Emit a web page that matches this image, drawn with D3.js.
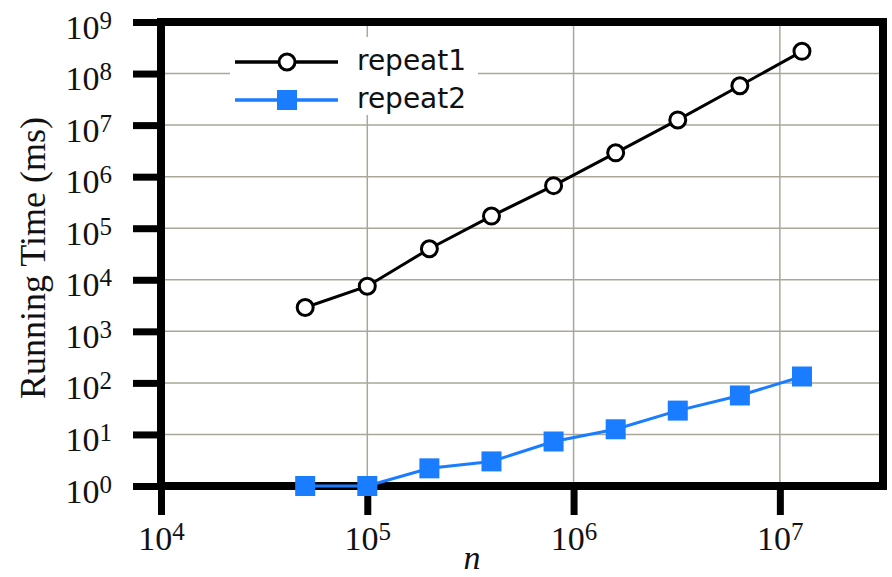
<!DOCTYPE html>
<html>
<head>
<meta charset="utf-8">
<script src="https://d3js.org/d3.v7.min.js"></script>
<style>
  body { margin: 0; background: #fff; }
  text.tick-lbl { font-family: "Liberation Serif", "Times New Roman", serif; fill: #111; }
  text.leg { font-family: "DejaVu Sans", sans-serif; fill: #111; }
</style>
</head>
<body>
<div id="chartHere"></div>
<script>
// data
var nValues = [5e4, 1e5, 2e5, 4e5, 8e5, 1.6e6, 3.2e6, 6.4e6, 1.28e7];
var repeat1 = [2900, 7500, 40000, 172000, 670000, 2.9e6, 1.26e7, 5.8e7, 2.7e8];
var repeat2 = [1, 1, 2.2, 3.0, 7.3, 12.6, 29, 57, 133];
var xTickExp = [4, 5, 6, 7];
var yTickExp = [0, 1, 2, 3, 4, 5, 6, 7, 8, 9];
var seriesNames = ['repeat1', 'repeat2'];

var W = 892, H = 577;
var plot = {left: 161, right: 883, top: 22, bottom: 486};

var svg = d3.select('#chartHere').append('svg')
  .attr('width', W).attr('height', H);

var x = d3.scaleLog().domain([1e4, Math.pow(10, 7.5)]).range([plot.left, plot.right]);
var y = d3.scaleLog().domain([1, 1e9]).range([plot.bottom, plot.top]);

var gridCol = '#a9a799';

// grid
svg.append('g').selectAll('line.vgrid')
  .data(xTickExp).enter().append('line')
  .attr('x1', d => x(Math.pow(10, d))).attr('x2', d => x(Math.pow(10, d)))
  .attr('y1', plot.top).attr('y2', plot.bottom)
  .attr('stroke', gridCol).attr('stroke-width', 1.5);
svg.append('g').selectAll('line.hgrid')
  .data(yTickExp).enter().append('line')
  .attr('x1', plot.left).attr('x2', plot.right)
  .attr('y1', d => y(Math.pow(10, d))).attr('y2', d => y(Math.pow(10, d)))
  .attr('stroke', gridCol).attr('stroke-width', 1.5);

// axes (ticks only, labels added by hand for the superscripts)
var yAxis = d3.axisLeft(y)
  .tickValues(yTickExp.map(e => Math.pow(10, e)))
  .tickSize(28).tickFormat('');
var xAxis = d3.axisBottom(x)
  .tickValues(xTickExp.map(e => Math.pow(10, e)))
  .tickSize(29).tickFormat('');

var gy = svg.append('g').attr('transform', 'translate(' + plot.left + ',0)').call(yAxis);
var gx = svg.append('g').attr('transform', 'translate(0,' + plot.bottom + ')').call(xAxis);
[gy, gx].forEach(function (g) {
  g.select('.domain').remove();
  g.selectAll('.tick line').attr('stroke', '#000').attr('stroke-width', 7);
});

function powLabel(sel, e) {
  sel.append('tspan').text('10');
  sel.append('tspan').text(e).attr('font-size', 25).attr('dy', -10);
}

gy.selectAll('.tick').each(function (d, i) {
  var t = d3.select(this).append('text')
    .attr('class', 'tick-lbl')
    .attr('x', -49).attr('y', 16)
    .attr('font-size', 34)
    .attr('text-anchor', 'end')
    .attr('fill', '#111');
  powLabel(t, yTickExp[i]);
});
gx.selectAll('.tick').each(function (d, i) {
  var t = d3.select(this).append('text')
    .attr('class', 'tick-lbl')
    .attr('x', 0).attr('y', 64)
    .attr('font-size', 34)
    .attr('text-anchor', 'middle')
    .attr('fill', '#111');
  powLabel(t, xTickExp[i]);
});

// axis titles
svg.append('text')
  .attr('class', 'tick-lbl')
  .attr('transform', 'translate(45,' + ((plot.top + plot.bottom) / 2 + 4) + ') rotate(-90)')
  .attr('text-anchor', 'middle')
  .attr('font-size', 36)
  .text('Running Time (ms)');
svg.append('text')
  .attr('class', 'tick-lbl')
  .attr('x', (plot.left + plot.right) / 2 - 50).attr('y', 569)
  .attr('text-anchor', 'middle')
  .attr('font-size', 34)
  .attr('font-style', 'italic')
  .text('n');

// frame
svg.append('rect')
  .attr('x', plot.left).attr('y', plot.top)
  .attr('width', plot.right - plot.left).attr('height', plot.bottom - plot.top)
  .attr('fill', 'none').attr('stroke', '#000').attr('stroke-width', 8);

// series
var blue = '#1a7dff';
var line = d3.line().x(d => x(d[0])).y(d => y(d[1]));
var s1 = d3.zip(nValues, repeat1);
var s2 = d3.zip(nValues, repeat2);

svg.append('path').datum(s2).attr('d', line)
  .attr('fill', 'none').attr('stroke', blue).attr('stroke-width', 3);
svg.append('g').selectAll('rect').data(s2).enter().append('rect')
  .attr('x', d => x(d[0]) - 10).attr('y', d => y(d[1]) - 10)
  .attr('width', 20).attr('height', 20)
  .attr('fill', blue);

svg.append('path').datum(s1).attr('d', line)
  .attr('fill', 'none').attr('stroke', '#000').attr('stroke-width', 3);
svg.append('g').selectAll('circle').data(s1).enter().append('circle')
  .attr('cx', d => x(d[0])).attr('cy', d => y(d[1]))
  .attr('r', 8)
  .attr('fill', '#fff').attr('stroke', '#000').attr('stroke-width', 3);

// legend
var leg = svg.append('g');
leg.append('rect').attr('x', 230).attr('y', 37).attr('width', 248).attr('height', 78)
  .attr('fill', '#fff');
var legRows = leg.selectAll('g.row').data(seriesNames).enter().append('g')
  .attr('transform', (d, i) => 'translate(0,' + (62 + i * 38) + ')');
legRows.append('line')
  .attr('x1', 235).attr('x2', 338).attr('y1', 0).attr('y2', 0)
  .attr('stroke', (d, i) => i === 0 ? '#000' : blue).attr('stroke-width', 3.5);
legRows.filter((d, i) => i === 0).append('circle')
  .attr('cx', 287).attr('cy', 0).attr('r', 8)
  .attr('fill', '#fff').attr('stroke', '#000').attr('stroke-width', 3);
legRows.filter((d, i) => i === 1).append('rect')
  .attr('x', 277).attr('y', -10).attr('width', 20).attr('height', 20)
  .attr('fill', blue);
legRows.append('text')
  .attr('class', 'leg')
  .attr('x', 357).attr('y', 8)
  .attr('font-size', 28)
  .text(d => d);
</script>
</body>
</html>
